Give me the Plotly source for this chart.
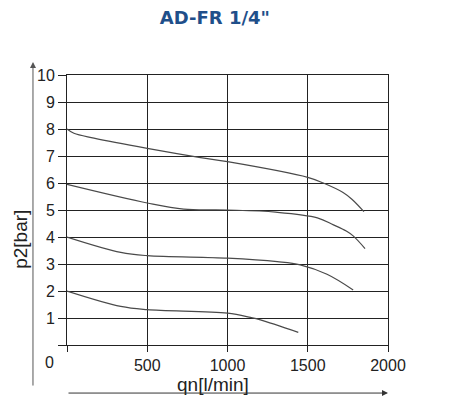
import plotly.graph_objects as go

# flow qn [l/min] and outlet pressure p2 [bar]
q_8bar = [0, 43, 168, 500, 832, 1000, 1500, 1597, 1720, 1775, 1850]
p_8bar = [8.0, 7.84, 7.66, 7.28, 6.94, 6.79, 6.21, 6.0, 5.65, 5.4, 4.94]

q_6bar = [0, 500, 727, 1000, 1300, 1560, 1660, 1740, 1783, 1857]
p_6bar = [5.95, 5.26, 5.03, 5.0, 4.92, 4.71, 4.45, 4.22, 4.04, 3.57]

q_4bar = [0, 335, 500, 1000, 1310, 1453, 1620, 1783]
p_4bar = [4.0, 3.43, 3.31, 3.22, 3.09, 2.97, 2.62, 2.04]

q_2bar = [0, 335, 500, 1000, 1143, 1205, 1441]
p_2bar = [2.0, 1.43, 1.31, 1.18, 1.02, 0.93, 0.47]

x_ticks = [0, 500, 1000, 1500, 2000]
x_ticktext = ["", "500", "1000", "1500", "2000"]
y_ticks = [0, 1, 2, 3, 4, 5, 6, 7, 8, 9, 10]
y_ticktext = ["", "1", "2", "3", "4", "5", "6", "7", "8", "9", "10"]

fig = go.Figure()
for qs, ps in [(q_8bar, p_8bar), (q_6bar, p_6bar), (q_4bar, p_4bar), (q_2bar, p_2bar)]:
    fig.add_trace(go.Scatter(x=qs, y=ps, mode="lines", line_shape="spline",
                             line=dict(color="#4a4a4a", width=1.2), showlegend=False,
                             hoverinfo="skip"))

axis_font = dict(family="Liberation Sans", size=16, color="#222222")
label_font = dict(family="Liberation Sans", size=19, color="#222222")

# page body has an 8px margin, so the figure is a bit smaller than the window
fig.update_layout(
    width=442, height=397,
    margin=dict(l=59, r=62, t=67, b=60),
    plot_bgcolor="white",
    paper_bgcolor="white",
    title=dict(text="<b>AD-FR 1/4\"</b>", x=0.468, xanchor="center", y=0.975, yanchor="middle",
               font=dict(family="DejaVu Sans", size=18, color="#1f4f8a")),
    xaxis=dict(range=[0, 2000], tickvals=x_ticks, ticktext=x_ticktext, tickfont=axis_font,
               showgrid=True, gridcolor="#222222", gridwidth=1, zeroline=False,
               showline=True, linecolor="#222222", linewidth=1, mirror=True,
               ticks="outside", ticklen=6, tickcolor="#222222"),
    yaxis=dict(range=[0, 10], tickvals=y_ticks, ticktext=y_ticktext, tickfont=axis_font,
               showgrid=True, gridcolor="#222222", gridwidth=1, zeroline=False,
               showline=True, linecolor="#222222", linewidth=1, mirror=True,
               ticks="outside", ticklen=8, tickcolor="#222222"),
)

# shared origin label and axis titles
fig.add_annotation(text="0", xref="paper", yref="paper", x=-0.056, y=-0.063,
                   xanchor="center", yanchor="middle", showarrow=False, font=axis_font)
fig.add_annotation(text="qn[l/min]", xref="paper", yref="paper", x=0.455, y=-0.148,
                   xanchor="center", yanchor="middle", showarrow=False, font=label_font)
fig.add_annotation(text="p2[bar]", xref="paper", yref="paper", x=-0.143, y=0.39,
                   xanchor="center", yanchor="middle", textangle=-90, showarrow=False,
                   font=label_font)

# axis arrows
fig.add_annotation(text="", xref="paper", yref="paper", x=1.0, y=-0.178,
                   ax=-321, ay=0, showarrow=True, arrowhead=2, arrowsize=1.2,
                   arrowwidth=1, arrowcolor="#333333")
fig.add_annotation(text="", xref="paper", yref="paper", x=-0.106, y=1.048,
                   ax=0, ay=325, showarrow=True, arrowhead=2, arrowsize=1.2,
                   arrowwidth=1, arrowcolor="#555555")

fig.write_html("out.html")
